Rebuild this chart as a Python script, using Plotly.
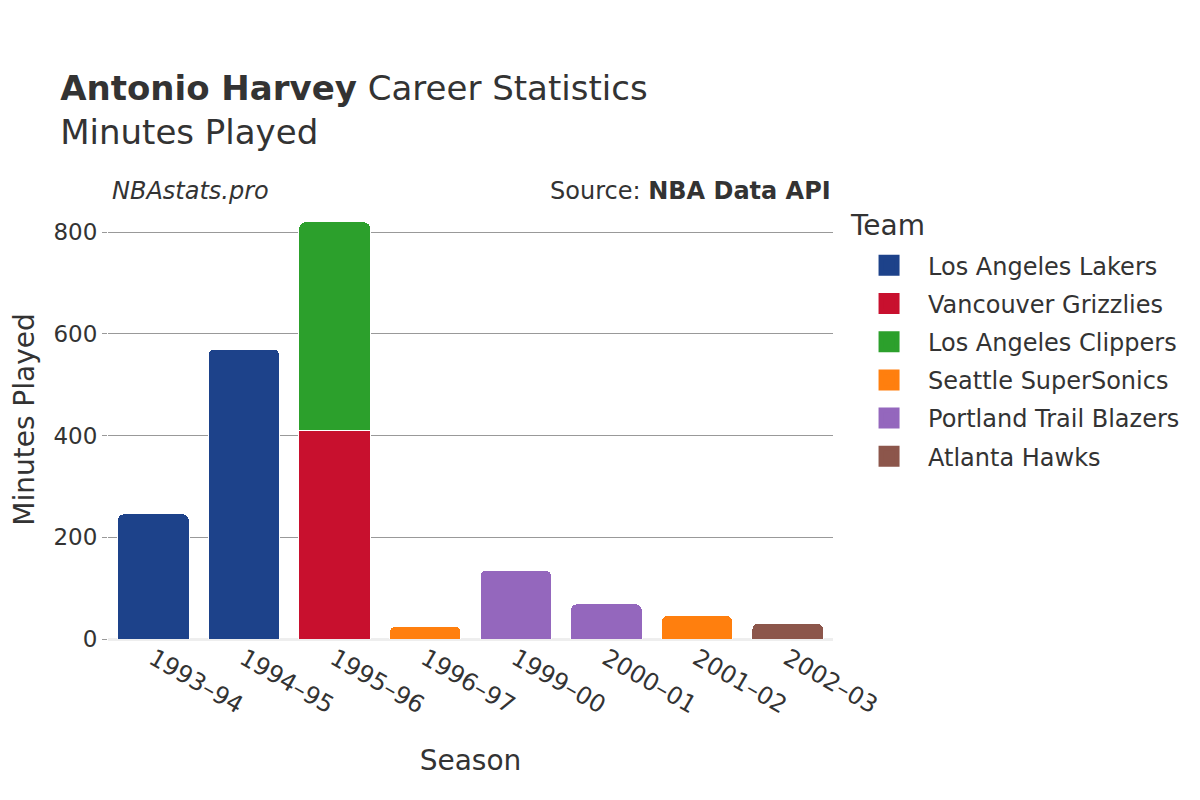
import plotly.graph_objects as go

seasons = ["1993–94", "1994–95", "1995–96", "1996–97", "1999–00", "2000–01", "2001–02", "2002–03"]
teams = ["Los Angeles Lakers", "Vancouver Grizzlies", "Los Angeles Clippers",
         "Seattle SuperSonics", "Portland Trail Blazers", "Atlanta Hawks"]
colors = ["#1D428A", "#C8102E", "#2CA02C", "#FF7F0E", "#9467BD", "#8C564B"]

lakers_seasons = ["1993–94", "1994–95"]
lakers_min = [246, 570]
grizzlies_seasons = ["1995–96"]
grizzlies_min = [410]
clippers_seasons = ["1995–96"]
clippers_min = [410]
sonics_seasons = ["1996–97", "2001–02"]
sonics_min = [25, 46]
blazers_seasons = ["1999–00", "2000–01"]
blazers_min = [135, 69]
hawks_seasons = ["2002–03"]
hawks_min = [31]

series = [
    (lakers_seasons, lakers_min),
    (grizzlies_seasons, grizzlies_min),
    (clippers_seasons, clippers_min),
    (sonics_seasons, sonics_min),
    (blazers_seasons, blazers_min),
    (hawks_seasons, hawks_min),
]

fig = go.Figure()
for i, (name, color, (xs, ys)) in enumerate(zip(teams, colors, series)):
    fig.add_trace(go.Bar(
        x=xs, y=ys, name=name, legendgroup=name, showlegend=False,
        marker=dict(color=color, line=dict(color="white", width=1)),
    ))
    # legend-only entry with a larger square symbol
    fig.add_trace(go.Scatter(
        x=[None], y=[None], name=name, legendgroup=name, mode="markers",
        marker=dict(symbol="square", size=16, color=color,
                    line=dict(color=color, width=5)),
        showlegend=True, hoverinfo="skip",
    ))

font_family = "DejaVu Sans"
fig.update_layout(
    width=1200, height=800,
    barmode="stack",
    barcornerradius=6,
    bargap=0.21,
    plot_bgcolor="white",
    paper_bgcolor="white",
    font=dict(family=font_family, color="#333333", size=20),
    margin=dict(l=100, r=375, t=192, b=169),
    title=dict(
        text="<b>Antonio Harvey</b> Career Statistics<br>Minutes Played",
        x=0.0435, xanchor="left", y=0.885, yanchor="top",
        font=dict(size=34, family=font_family, color="#333333"),
    ),
    xaxis=dict(
        title=dict(text="Season", font=dict(size=28), standoff=31),
        categoryorder="array", categoryarray=seasons,
        tickangle=30, tickfont=dict(size=24),
        showgrid=False, showline=False, ticks="",
        automargin=False,
    ),
    yaxis=dict(
        title=dict(text="Minutes Played", font=dict(size=28), standoff=30),
        tickfont=dict(size=23),
        gridcolor="#999999", gridwidth=1,
        ticks="outside", ticklen=5, tickcolor="#999999",
        zeroline=True, zerolinecolor="#eeeeee", zerolinewidth=3,
        tickvals=[0, 200, 400, 600, 800],
        automargin=False,
    ),
    legend=dict(
        font=dict(size=24),
        xref="container", yref="container",
        x=0.7017, xanchor="left", y=0.706, yanchor="top",
        traceorder="grouped",
        tracegroupgap=4,
        itemwidth=68,
    ),
    annotations=[
        dict(text="Team", xref="paper", yref="paper",
             x=1.021, y=0.9408, xanchor="left", yanchor="middle",
             showarrow=False, font=dict(size=28, color="#333333")),
        dict(text="<i>NBAstats.pro</i>", xref="paper", yref="paper",
             x=0.114, y=1.02, xanchor="center", yanchor="middle",
             showarrow=False, font=dict(size=24, color="#333333")),
        dict(text="Source: <b>NBA Data API</b>", xref="paper", yref="paper",
             x=1.0, y=1.02, xanchor="right", yanchor="middle",
             showarrow=False, font=dict(size=24, color="#333333")),
    ],
)

fig.write_html("out.html")
